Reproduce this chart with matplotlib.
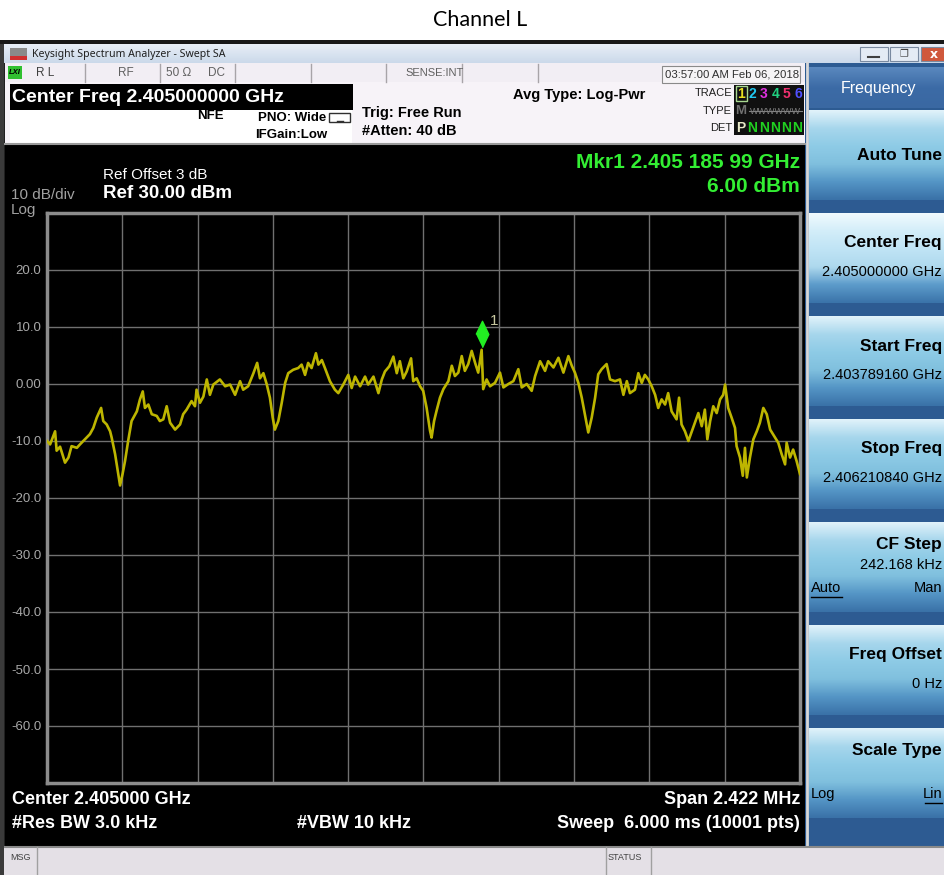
import numpy as np
import matplotlib.pyplot as plt
import matplotlib.transforms as mtransforms
from matplotlib.patches import Rectangle, Polygon
from matplotlib.colors import LinearSegmentedColormap

# trace: offset from 2.405 GHz centre (kHz) and level (dBm)
center_ghz = 2.405
half_span_khz = 1211
ref_level = 30.0
y_ticks = [-70, -60, -50, -40, -30, -20, -10, 0, 10, 20, 30]
y_labels = ['', '-60.0', '-50.0', '-40.0', '-30.0', '-20.0', '-10.0', '0.00', '10.0', '20.0', '']
marker_khz = 187
marker_dbm = 6.00

freq_khz = [
    -1211, -1201, -1185, -1180, -1169, -1153, -1142, -1132, -1115, -1105,
    -1089, -1073, -1062, -1051, -1037, -1030, -1019, -1008, -1003, -992,
    -982, -976, -968, -960, -950, -939, -922, -912, -903, -896,
    -885, -874, -858, -848, -837, -826, -815, -799, -783, -773,
    -762, -746, -735, -730, -719, -708, -697, -687, -676, -655,
    -638, -622, -606, -590,
    -580, -564, -547, -535, -526, -515, -504, -494, -485, -478,
    -467, -456, -445, -435, -419, -403, -392, -381, -371, -360,
    -346, -338, -327, -317, -301, -285, -274, -258, -242, -231,
    -220, -204, -188, -178, -161, -145, -134, -124, -110, -97,
    -86, -76, -65, -54, -40, -33, -22, -11,
    -1, 10, 21, 26, 34, 42, 53, 64, 80, 91,
    101, 112, 123, 133, 144, 155, 166, 176, 187, 192,
    203, 214, 230, 246, 257, 273, 289, 305, 316, 332,
    348, 359, 375, 391, 401, 418, 434, 450, 466, 477,
    487, 498, 509, 519, 530, 541, 552, 562, 573, 589,
    600,
    616, 632, 643, 654, 664, 680, 691, 702, 712, 723,
    734, 745, 755, 766, 777, 787, 798, 814, 822, 830,
    841, 852, 863, 873, 884, 895, 905, 913, 922, 932,
    943, 954, 964, 970, 980, 991, 1002, 1007, 1018, 1027,
    1034, 1040, 1050, 1061, 1072, 1082, 1093, 1104, 1115, 1131,
    1141, 1152, 1163, 1168, 1179, 1189, 1200, 1211]

level_dbm = [
    -10.0, -10.6, -8.3, -11.7, -11.0, -13.8, -12.9, -10.9, -11.2, -10.6,
    -9.7, -8.8, -7.7, -5.9, -4.2, -6.5, -7.1, -8.3, -9.4, -12.3,
    -15.8, -17.8, -15.8, -13.5, -10.0, -6.5, -4.8, -2.7, -1.3, -4.2,
    -3.6, -5.3, -5.6, -6.5, -6.2, -3.9, -6.8, -8.0, -7.1, -5.3,
    -4.5, -3.0, -3.9, -1.0, -3.3, -2.2, 0.8, -1.9, -0.1, 0.8,
    -0.4, -0.1, -1.9, 0.5,
    -1.0, -0.4, 1.9, 3.7, 1.0, 1.9, -0.1, -2.4, -5.9, -8.0,
    -6.5, -3.3, 0.2, 1.9, 2.5, 2.8, 3.4, 1.6, 3.7, 2.8,
    5.4, 3.4, 4.2, 2.8, 0.5, -1.0, -1.6, -0.1, 1.6, -0.7,
    1.3, -0.4, 1.3, -0.1, 1.3, -1.6, 0.8, 2.2, 3.1, 4.8,
    1.9, 4.0, 1.0, 2.2, 4.5, 0.5, 1.0, -0.4,
    -1.2, -4.2, -8.2, -9.4, -6.5, -4.7, -2.4, -0.9, 0.5, 3.2,
    1.4, 2.0, 4.9, 2.3, 3.5, 5.8, 3.7, 2.0, 6.0, -0.9,
    0.8, -0.4, 0.2, 2.0, -0.6, 0.0, 0.5, 2.6, -0.6, 0.0,
    -1.2, 1.4, 4.0, 2.3, 4.0, 2.9, 4.6, 2.0, 4.9, 3.2,
    2.0, 0.2, -2.4, -5.3, -8.5, -5.9, -2.4, 1.7, 2.6, 3.5,
    0.8,
    0.5, 0.8, -1.9, 0.5, -1.6, -1.0, 1.9, 0.2, 1.6, 0.8,
    -0.4, -1.9, -4.2, -2.7, -3.6, -1.6, -4.8, -6.2, -2.4, -7.1,
    -8.3, -10.0, -8.3, -6.8, -5.1, -7.4, -4.5, -9.7, -6.5, -3.9,
    -5.1, -2.7, -1.9, -0.1, -4.2, -5.9, -7.7, -10.9, -12.9, -16.1,
    -11.2, -16.4, -12.9, -9.7, -8.3, -6.8, -4.2, -5.3, -8.0, -9.4,
    -10.3, -12.3, -14.1, -10.3, -12.9, -11.5, -13.5, -15.8]

soft_keys = [('Auto Tune', None), ('Center Freq', '2.405000000 GHz'),
             ('Start Freq', '2.403789160 GHz'), ('Stop Freq', '2.406210840 GHz'),
             ('CF Step', '242.168 kHz'), ('Freq Offset', '0 Hz'), ('Scale Type', None)]

NARROW = ['Liberation Sans Narrow', 'Liberation Sans', 'DejaVu Sans']
plt.rcParams['font.family'] = NARROW

fig = plt.figure(figsize=(9.45, 8.75), dpi=100)
fig.patch.set_facecolor('white')

# screen furniture drawn in pixel coordinates
ui = fig.add_axes([0, 0, 1, 1])
ui.axis('off')


def box(x0, y0, x1, y1, fc, ec='none', lw=0, z=1):
    ui.add_patch(Rectangle((x0, y0), x1 - x0, y1 - y0, fc=fc, ec=ec, lw=lw, zorder=z))


def grad(x0, y0, x1, y1, colors, z=1):
    cm = LinearSegmentedColormap.from_list('g', colors)
    g = np.linspace(0, 1, 64).reshape(-1, 1)
    ui.imshow(g, cmap=cm, extent=(x0, x1, y1, y0), aspect='auto', zorder=z,
              interpolation='bilinear')


def txt(x, y, s, size, color='black', ha='left', weight='normal', **kw):
    ui.text(x, y, s, fontsize=size, color=color, ha=ha, va='center',
            fontweight=weight, zorder=5, **kw)


ui.text(480, 20, 'Channel L', fontsize=15.5, ha='center', va='center',
        family=['Lato', 'DejaVu Sans'])

box(0, 40, 945, 875, '#202020')
# title bar
grad(0, 44, 945, 63, ['#e8eef7', '#cbd9ea'])
box(10, 48, 27, 60, '#8a8a8a')
box(10, 56, 27, 60, '#d03030')
ui.text(32, 54, 'Keysight Spectrum Analyzer - Swept SA', fontsize=7.6, va='center',
        family=['Noto Sans', 'DejaVu Sans'], color='#202020', zorder=5)
for bx, col in [(860, '#e4ebf4'), (890, '#e4ebf4'), (921, '#d0583c')]:
    box(bx, 47, bx + 28, 61, col, ec='#7a8aa0', lw=0.8, z=3)
ui.plot([868, 879], [57, 57], color='#404040', lw=1.5, zorder=5)
ui.text(904, 54, '\u2750', fontsize=7, ha='center', va='center', color='#404040',
        family=['DejaVu Sans'], zorder=5)
ui.text(934, 54, 'x', fontsize=9, ha='center', va='center', color='white',
        fontweight='bold', family=['DejaVu Sans'], zorder=5)

# status row
box(5, 63, 805, 82, '#f2eef4')
for dx in [85, 160, 235, 311, 386, 462, 538]:
    ui.plot([dx, dx], [64, 82], color='#a8a4a8', lw=1, zorder=3)
box(8, 66, 22, 79, '#30c030')
txt(9, 72.5, 'LXI', 5.5, 'black', weight='bold', style='italic')
txt(36, 72.5, 'R L', 8.5, '#404040')
txt(118, 72.5, 'RF', 8.5, '#606060')
txt(166, 72.5, '50 \u03a9', 8.5, '#606060')
txt(208, 72.5, 'DC', 8.5, '#606060')
txt(405, 72.5, 'SENSE:INT', 8, '#606060')
box(662, 66, 800, 83, '#f6f4f6', ec='#8a8a8a', lw=0.8, z=2)
txt(665, 74.5, '03:57:00 AM Feb 06, 2018', 8.2, '#303030')

# settings panel
box(5, 82, 805, 144, '#f7f3f8')
box(10, 108, 352, 143, '#ffffff', z=1.5)
ui.plot([5, 805], [143.5, 143.5], color='#9a9a9a', lw=1.5, zorder=3)
box(10, 84, 353, 110, 'black', z=2)
txt(12, 97, 'Center Freq 2.405000000 GHz', 14, 'white', weight='bold')
txt(197, 116, 'NFE', 9.5, 'black', weight='bold')
txt(258, 118, 'PNO: Wide', 9.5, 'black', weight='bold')
txt(255, 135, 'IFGain:Low', 9.5, 'black', weight='bold')
ui.add_patch(Rectangle((329, 113), 21, 9, fc='none', ec='#303030', lw=1, zorder=3))
ui.plot([337, 343], [121, 121], color='#303030', lw=1, zorder=3)
txt(362, 113, 'Trig: Free Run', 10.5, 'black', weight='bold')
txt(362, 131, '#Atten: 40 dB', 10.5, 'black', weight='bold')
txt(513, 95, 'Avg Type: Log-Pwr', 10.5, 'black', weight='bold')
txt(732, 93, 'TRACE', 8, '#202020', ha='right')
txt(732, 111, 'TYPE', 8, '#202020', ha='right')
txt(732, 128, 'DET', 8, '#202020', ha='right')
box(734, 85, 804, 135, '#101010', z=2)
ui.add_patch(Rectangle((735.5, 86), 11, 15, fc='none', ec='#a8d890', lw=1, zorder=3))
for i, col in enumerate(['#e8e020', '#20c8f0', '#e030e0', '#20d080', '#f03070', '#5050ff']):
    txt(741 + i * 11.4, 93.5, str(i + 1), 10, col, ha='center', weight='bold')
txt(741, 111, 'M', 9.5, '#707070', ha='center', weight='bold')
txt(775, 111, 'WWWWWW', 6.5, '#808080', ha='center')
ui.plot([749, 802], [111, 111], color='#808080', lw=0.8, zorder=6)
txt(741, 127.5, 'P', 10, '#e8e8c8', ha='center', weight='bold')
for i in range(5):
    txt(752.5 + i * 11.2, 128, 'N', 10, '#20d020', ha='center', weight='bold')

# display area
box(5, 144, 805, 846, 'black')
txt(103, 175, 'Ref Offset 3 dB', 11, 'white')
txt(103, 194, 'Ref 30.00 dBm', 13.5, 'white', weight='bold')
txt(11, 195, '10 dB/div', 11, '#a0a0a0')
txt(11, 210, 'Log', 11, '#a0a0a0')
txt(800, 162, 'Mkr1 2.405 185 99 GHz', 15, '#33ee33', ha='right', weight='bold')
txt(800, 187, '6.00 dBm', 15, '#33ee33', ha='right', weight='bold')
txt(12, 800, 'Center 2.405000 GHz', 13, 'white', weight='bold')
txt(800, 800, 'Span 2.422 MHz', 13, 'white', ha='right', weight='bold')
txt(12, 824, '#Res BW 3.0 kHz', 13, 'white', weight='bold')
txt(297, 824, '#VBW 10 kHz', 13, 'white', weight='bold')
txt(800, 824, 'Sweep  6.000 ms (10001 pts)', 13, 'white', ha='right', weight='bold')
ui.add_patch(Polygon([(418, 214), (428, 214), (423, 221)], fc='#888888', zorder=6))
ui.add_patch(Polygon([(418, 782), (428, 782), (423, 774)], fc='#888888', zorder=6))

# soft key panel
box(805, 63, 945, 846, '#2d5b92')
ui.plot([806.5, 806.5], [63, 846], color='#d8d8d8', lw=2, zorder=3)
grad(809, 67, 945, 108, ['#5a88be', '#3c6ba6', '#3a68a2'], z=2)
txt(878, 88, 'Frequency', 11.5, 'white', ha='center')
RX = 942
for i, (label, value) in enumerate(soft_keys):
    top = 110 + 103 * i
    if i == 1:
        cols = ['#f0fafe', '#d2edf9', '#c0e4f5', '#aed9ee', '#5d9ccb', '#3b74aa']
    else:
        cols = ['#e0f2fa', '#a6d6ec', '#8ecbe6', '#80c0de', '#5596c6', '#3a72a8']
    grad(809, top, 945, top + 90, cols, z=2)
    if value is None and i == 0:
        txt(RX, top + 45, label, 12.5, 'black', ha='right', weight='bold')
    elif i == 6:
        txt(RX, top + 22, label, 12.5, 'black', ha='right', weight='bold')
        txt(811, top + 66, 'Log', 10.5, 'black')
        txt(RX, top + 66, 'Lin', 10.5, 'black', ha='right')
        ui.plot([925, RX], [top + 75, top + 75], color='black', lw=1, zorder=6)
    elif i == 4:
        txt(RX, top + 22, label, 12.5, 'black', ha='right', weight='bold')
        txt(RX, top + 43, value, 10.5, 'black', ha='right')
        txt(811, top + 66, 'Auto', 10.5, 'black')
        txt(RX, top + 66, 'Man', 10.5, 'black', ha='right')
        ui.plot([811, 842], [top + 75, top + 75], color='black', lw=1, zorder=6)
    else:
        txt(RX, top + 30, label, 12.5, 'black', ha='right', weight='bold')
        txt(RX, top + 59, value, 10.5, 'black', ha='right')

# message bar
box(0, 846, 945, 875, '#e4e0e6')
ui.plot([0, 945], [846.5, 846.5], color='#8a8a8a', lw=1.5, zorder=3)
ui.plot([37, 37], [847, 875], color='#a0a0a0', lw=1, zorder=3)
ui.plot([606, 606], [847, 875], color='#a0a0a0', lw=1, zorder=3)
ui.plot([651, 651], [847, 875], color='#a0a0a0', lw=1, zorder=3)
txt(10, 858, 'MSG', 6.5, '#404040')
txt(608, 858, 'STATUS', 6.5, '#404040')
box(0, 40, 945, 44, '#181818', z=4)
box(0, 44, 4, 875, '#3a3a3a', z=4)

ui.set_xlim(0, 945)
ui.set_ylim(875, 0)

# the trace graticule
ax = fig.add_axes([47 / 945, (875 - 783) / 875, 753 / 945, 570 / 875])
ax.set_facecolor('black')
ax.plot(freq_khz, level_dbm, color='#bdb500', lw=1.9, zorder=4)
ax.set_xlim(-half_span_khz, half_span_khz)
ax.set_ylim(ref_level - 100, ref_level)
ax.set_xticks(np.linspace(-half_span_khz, half_span_khz, 11))
ax.set_xticklabels([])
ax.set_yticks(y_ticks)
ax.set_yticklabels(y_labels)
ax.tick_params(length=0, labelsize=9.5, labelcolor='#a8a8a8', pad=4)
ax.grid(True, color='#707070', lw=1)
for sp in ax.spines.values():
    sp.set_color('#8c8c8c')
    sp.set_linewidth(2.5)

diamond = [(0, -1), (0.48, 0), (0, 1), (-0.48, 0)]
shift = mtransforms.offset_copy(ax.transData, fig=fig, x=0, y=16, units='dots')
ax.plot([marker_khz], [marker_dbm], marker=diamond, markersize=19, color='#22ee22',
        mec='#22ee22', transform=shift, zorder=6, clip_on=False)
ax.annotate('1', (marker_khz, marker_dbm), xytext=(6, 21), textcoords='offset points',
            color='#c8c8a0', fontsize=11, va='center', zorder=6)

fig.savefig('out.png', dpi=100, facecolor=fig.get_facecolor())
